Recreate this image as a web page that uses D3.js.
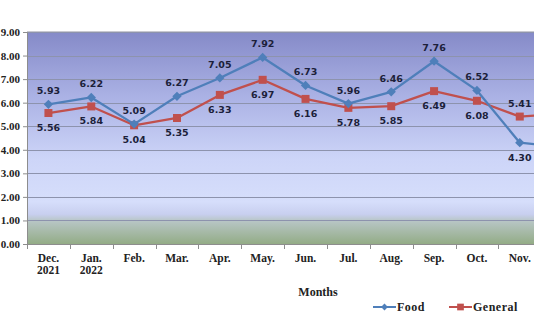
<!DOCTYPE html>
<html>
<head>
<meta charset="utf-8">
<script src="https://cdn.jsdelivr.net/npm/d3@7/dist/d3.min.js"></script>
<style>
html,body{margin:0;padding:0;background:#fff;overflow:hidden;}
svg{display:block;}
</style>
</head>
<body>
<svg id="chart" width="534" height="327"></svg>
<script>
const months = [["Dec.","2021"],["Jan.","2022"],["Feb."],["Mar."],["Apr."],["May."],["Jun."],["Jul."],["Aug."],["Sep."],["Oct."],["Nov."],["Dec.","2022"]];
const food    = [5.93, 6.22, 5.09, 6.27, 7.05, 7.92, 6.73, 5.96, 6.46, 7.76, 6.52, 4.30, 4.12];
const general = [5.56, 5.84, 5.04, 5.35, 6.33, 6.97, 6.16, 5.78, 5.85, 6.49, 6.08, 5.41, 5.53];
const yTicks  = [0,1,2,3,4,5,6,7,8,9];
const seriesNames = ["Food","General"];
// label placement: 1 = above, -1 = below
const foodPos    = [1,1,1,1,1,1,1,1,1,1,1,-1,-1];
const generalPos = [-1,-1,-1,-1,-1,-1,-1,-1,-1,-1,-1,1,1];

(function(){
const W = 534;
const svg = d3.select("#chart");
const pLeft = 27, pTop = 32, pBottom = 244;
const step = 42.85;
const x = d3.scaleBand().domain(d3.range(months.length)).range([pLeft, pLeft + step*months.length]).padding(0);
const y = d3.scaleLinear().domain([0, 9]).range([pBottom, pTop]);
const pRight = pLeft + step*months.length;
const cx = i => x(i) + x.bandwidth()/2;
const visible = i => cx(i) < W;

const defs = svg.append("defs");
const g = defs.append("linearGradient").attr("id","bg").attr("x1",0).attr("y1",0).attr("x2",0).attr("y2",1);
[[0,"#858ac8"],[0.3,"#aab1e4"],[0.6,"#cdd5f8"],[0.8,"#d6defb"],[0.86,"#c8cfef"],[0.89,"#b8c6c6"],[1,"#93ac86"]]
  .forEach(([o,c])=>g.append("stop").attr("offset",o).attr("stop-color",c));

svg.append("rect").attr("x",pLeft).attr("y",pTop).attr("width",pRight-pLeft).attr("height",pBottom-pTop).attr("fill","url(#bg)");
svg.append("line").attr("x1",pLeft).attr("x2",pRight).attr("y1",pTop-0.5).attr("y2",pTop-0.5).attr("stroke","#c8c8d0").attr("stroke-width",1);

// gridlines
svg.append("g").selectAll("line").data(yTicks.filter(d=>d>0)).join("line")
  .attr("x1",pLeft).attr("x2",pRight)
  .attr("y1",d=>Math.round(y(d))+0.5).attr("y2",d=>Math.round(y(d))+0.5)
  .attr("stroke","#8d93ad").attr("stroke-width",1);

// y axis
const yAxis = d3.axisLeft(y).tickValues(yTicks).tickFormat(d3.format(".2f")).tickSize(4).tickPadding(3);
const ya = svg.append("g").attr("transform",`translate(${pLeft},0)`).call(yAxis);
ya.select(".domain").attr("stroke","#8d8d8d");
ya.selectAll(".tick line").attr("stroke","#8d8d8d");
ya.selectAll("text").attr("font-family","'Liberation Serif', serif").attr("font-weight","bold").attr("font-size","11px").attr("fill","#222");

// x axis
const xa = svg.append("g").attr("transform",`translate(0,${pBottom})`);
xa.append("line").attr("x1",pLeft).attr("x2",pRight).attr("y1",0.5).attr("y2",0.5).attr("stroke","#8d8d8d");
xa.selectAll("line.t").data(d3.range(months.length+1)).join("line").attr("class","t")
  .attr("x1",i=>Math.round(pLeft+i*step)+0.5).attr("x2",i=>Math.round(pLeft+i*step)+0.5)
  .attr("y1",0).attr("y2",5).attr("stroke","#8d8d8d");
const xLines = [];
months.forEach((m,i)=>{ if(visible(i)) m.forEach((t,j)=>xLines.push({i,j,t})); });
xa.selectAll("text").data(xLines).join("text")
  .attr("x",d=>cx(d.i)).attr("y",d=>18 + d.j*12)
  .attr("text-anchor","middle")
  .attr("font-family","'Liberation Serif', serif").attr("font-weight","bold").attr("font-size","11.5px").attr("fill","#222")
  .text(d=>d.t);

svg.append("text").attr("x",318).attr("y",296).attr("text-anchor","middle")
  .attr("font-family","'Liberation Serif', serif").attr("font-weight","bold").attr("font-size","12px").attr("fill","#222").text("Months");

const colors = ["#4f7fba","#c0504d"];
const line = d3.line().x((d,i)=>cx(i)).y(d=>y(d));

function drawSeries(vals, color, marker, pos){
  svg.append("path").datum(vals).attr("d",line).attr("fill","none").attr("stroke",color).attr("stroke-width",2.3).attr("stroke-linejoin","round");
  const sym = marker==="diamond" ? d3.symbol().type(d3.symbolDiamond2).size(55) : d3.symbol().type(d3.symbolSquare).size(64);
  svg.append("g").selectAll("path").data(vals).join("path")
    .attr("transform",(d,i)=>`translate(${cx(i)},${y(d)})`)
    .attr("d",sym).attr("fill",color);
  const labs = vals.map((v,i)=>({v,i})).filter(d=>visible(d.i));
  svg.append("g").selectAll("text").data(labs).join("text")
    .attr("x",d=>cx(d.i))
    .attr("y",d=>y(d.v) + (pos[d.i]>0 ? -10 : 18))
    .attr("text-anchor","middle")
    .attr("font-family","'DejaVu Sans', sans-serif").attr("font-weight","bold").attr("font-size","9.5px").attr("fill","#1c1f3a")
    .text(d=>d.v.toFixed(2));
}
drawSeries(general, colors[1], "square", generalPos);
drawSeries(food, colors[0], "diamond", foodPos);

// legend
const leg = svg.append("g");
const legItems = [{name:seriesNames[0],x:373,color:colors[0],m:"diamond"},{name:seriesNames[1],x:449,color:colors[1],m:"square"}];
legItems.forEach(it=>{
  leg.append("line").attr("x1",it.x).attr("x2",it.x+23).attr("y1",307).attr("y2",307).attr("stroke",it.color).attr("stroke-width",2);
  const sym = it.m==="diamond" ? d3.symbol().type(d3.symbolDiamond2).size(30) : d3.symbol().type(d3.symbolSquare).size(45);
  leg.append("path").attr("transform",`translate(${it.x+11.5},307)`).attr("d",sym).attr("fill",it.color);
  leg.append("text").attr("x",it.x+24).attr("y",311).attr("font-family","'Liberation Serif', serif").attr("font-weight","bold").attr("font-size","12px").attr("letter-spacing","0.5px").attr("fill","#222").text(it.name);
});
})();
</script>
</body>
</html>
